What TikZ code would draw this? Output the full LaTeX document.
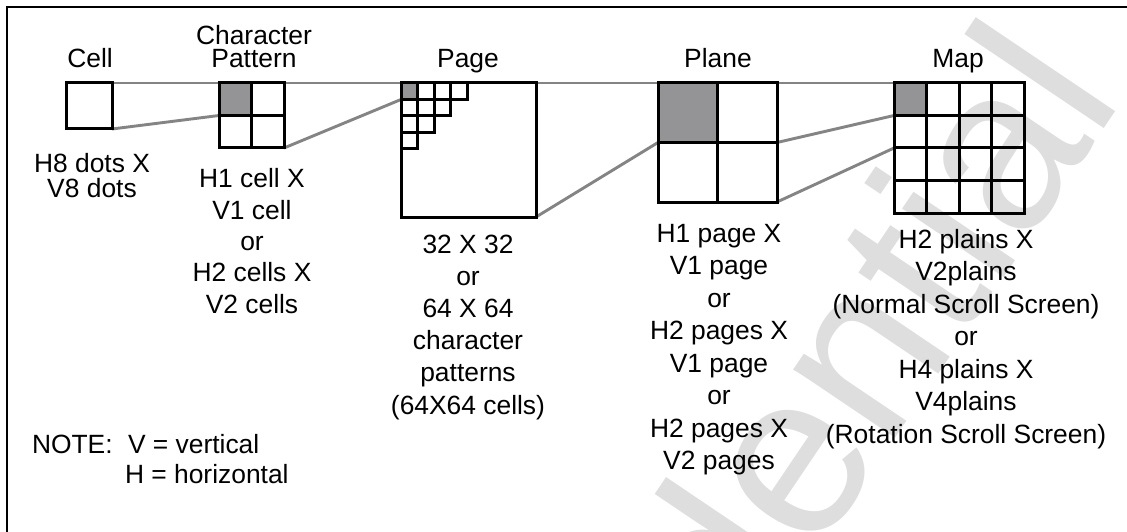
\documentclass[tikz,border=0pt]{standalone}
\usepackage{fontspec}
\setmainfont{Liberation Sans}
\usetikzlibrary{calc,backgrounds}
\definecolor{linkgray}{RGB}{132,132,132}
\definecolor{cellgray}{RGB}{148,148,150}
\definecolor{markgray}{RGB}{222,222,222}

\begin{document}
\begin{tikzpicture}[x=1pt,y=-1pt,
  box/.style={draw=black, line width=3pt, inner sep=0pt, outer sep=0pt},
  hot/.style={fill=cellgray, draw=black, line width=3pt, inner sep=0pt, outer sep=0pt, anchor=north west},
  gridline/.style={draw=black, line width=3pt},
  link/.style={draw=linkgray, line width=2.9pt},
  lbl/.style={inner sep=0pt, outer sep=0pt, anchor=base, align=center},
  txt/.style={font=\fontsize{26.4}{32.5}\selectfont},
  note/.style={inner sep=0pt, outer sep=0pt, anchor=base west, font=\fontsize{26.4}{30}\selectfont}]

\useasboundingbox (0,0) rectangle (1127,532);

% cell
\node[box, minimum size=46pt] (cell) at (89,106) {};

% character pattern: 2 x 2 cells
\node[box, minimum size=65pt] (cp) at (251.5,115.5) {};
\node[hot, minimum size=32.5pt] (cpg) at (cp.north west) {};
\draw[gridline] (cp.north) -- (cp.south) (cp.west) -- (cp.east);

% page with its corner of character patterns
\node[box, minimum width=135pt, minimum height=134pt] (page) at (468.5,150) {};
\node[hot, minimum size=16.5pt] (pg) at (page.north west) {};
\foreach \c/\r in {1/0,2/0,3/0,0/1,1/1,2/1,0/2,1/2,0/3}
  \draw[gridline] ($(page.north west)+(\c*16.5,\r*16.5)$) rectangle +(16.5,16.5);

% plane: 2 x 2 pages
\node[box, minimum size=119pt] (plane) at (717.5,142.5) {};
\node[hot, minimum size=59.5pt] (plg) at (plane.north west) {};
\draw[gridline] (plane.north) -- (plane.south) (plane.west) -- (plane.east);

% map: 4 x 4 planes
\node[box, minimum size=130pt] (map) at (959,148) {};
\node[hot, minimum size=32.5pt] (mg) at (map.north west) {};
\foreach \i in {1,2,3} {
  \draw[gridline] ($(map.north west)+(\i*32.5,0)$) -- ($(map.south west)+(\i*32.5,0)$);
  \draw[gridline] ($(map.north west)+(0,\i*32.5)$) -- ($(map.north east)+(0,\i*32.5)$);
}
\coordinate (mrow) at ($(map.north west)+(0,65)$);

\begin{scope}[on background layer]
% paper and watermark
\fill[white] (0,0) rectangle (1127,532);
\node[inner sep=0pt, anchor=base east, rotate=56, text=markgray,
      font=\fontsize{232}{232}\selectfont] (mark) at (1125,98) {Confidential};
% zoom connectors
\draw[link] (cell.north east) -- (cp.north west);
\draw[link] (cell.south east) -- (cpg.south west);
\draw[link] (cp.north east) -- (page.north west);
\draw[link] (cp.south east) -- (pg.south west);
\draw[link] (page.north east) -- (plane.north west);
\draw[link] (page.south east) -- (plg.south west);
\draw[link] (plane.north east) -- (map.north west);
\draw[link] (plane.east) -- (mg.south west);
\draw[link] (plane.south east) -- (mrow);
\end{scope}

% frame
\draw[line width=2.7pt] (7,545) -- (7,7) -- (1140,7);

% titles (multi-line nodes sit on the baseline of their last line)
\node[lbl, txt] (tcell) at (90,68) {Cell};
\node[lbl, font=\fontsize{26.4}{23}\selectfont] (tcp) at (254,68) {Character\\Pattern};
\node[lbl, txt] (tpage) at (468,68) {Page};
\node[lbl, txt] (tplane) at (718,68) {Plane};
\node[lbl, txt] (tmap) at (958,68) {Map};

% sizes
\node[lbl, font=\fontsize{26.4}{25.5}\selectfont] (dcell) at (92,197.5) {H8 dots X\\V8 dots};
\node[lbl, font=\fontsize{26.4}{31.3}\selectfont] (dcp) at (252,313)
  {H1 cell X\\V1 cell\\or\\H2 cells X\\V2 cells};
\node[lbl, font=\fontsize{26.4}{32.2}\selectfont] (dpage) at (468,414)
  {32 X 32\\or\\64 X 64\\character\\patterns\\(64X64 cells)};
\node[lbl, txt] (dplane) at (719,469.5)
  {H1 page X\\V1 page\\or\\H2 pages X\\V1 page\\or\\H2 pages X\\V2 pages};
\node[lbl, txt] (dmap) at (966,443)
  {H2 plains X\\V2plains\\(Normal Scroll Screen)\\or\\H4 plains X\\V4plains\\(Rotation Scroll Screen)};

% note
\node[note] (nt) at (32,453) {NOTE:};
\node[note] (nv) at (128,453) {V = vertical};
\node[note] (nh) at (125,483) {H = horizontal};
\end{tikzpicture}
\end{document}
